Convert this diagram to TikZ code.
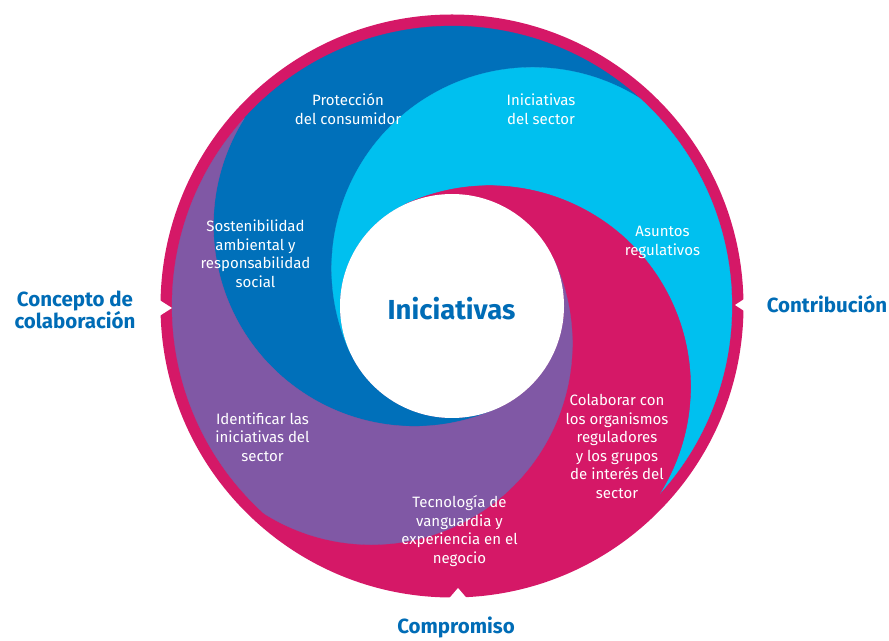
\documentclass[tikz,border=0pt]{standalone}
\usepackage{fontspec}
\setmainfont{Fira Sans}
\usetikzlibrary{calc}
\definecolor{mag}{RGB}{213,24,103}
\definecolor{dblue}{RGB}{0,112,186}
\definecolor{lblue}{RGB}{0,192,239}
\definecolor{purp}{RGB}{128,88,165}
\definecolor{tblue}{RGB}{0,108,182}
\begin{document}
\begin{tikzpicture}[x=1pt,y=1pt,
  wlabel/.style={text=white, align=center, inner sep=0pt, font=\fontsize{15}{18.5}\selectfont},
  blabel/.style={text=tblue, align=center, inner sep=0pt, font=\bfseries\fontsize{20.5}{20}\selectfont},
  clabel/.style={text=tblue, inner sep=0pt, font=\bfseries\fontsize{27.5}{29}\selectfont},
  notch/.style={fill=white, draw=none}]
\useasboundingbox (0,0) rectangle (889,640);
\coordinate (C) at (452,334);
\def\rw{112}
\def\rD{201}
\def\Rin{280}
\def\Rout{291.5}
\def\al{22.88}
\def\be{32.80}
% outer magenta disk
\fill[mag] (C) circle[radius=\Rout];
% four swirl arms
\foreach \t/\col in {115/dblue,25/lblue,-65/mag,205/purp}{
  \path[fill=\col, draw=\col, line width=0.3pt]
     ($(C)+({\t+180}:\rw)$)
     arc[start angle={\t+180}, end angle={\t+\be}, radius=\rD]
     arc[start angle={\t+\al}, end angle={\t-90+\al}, radius=\Rin]
     arc[start angle={\t-90+\be}, end angle={\t+90}, radius=\rD]
     arc[start angle={\t+90}, end angle={\t+180}, radius=\rw] -- cycle;
}
% white centre
\fill[white] (C) circle[radius=\rw];
% notches
\coordinate (nl) at (172,332);
\coordinate (nr) at (735,335);
\coordinate (nb) at (458,52);
\fill[notch] (nl) -- (150,346) -- (150,318) -- cycle;
\fill[notch] (nr) -- (752,346) -- (752,324) -- cycle;
\fill[notch] (nb) -- (446,38) -- (470,38) -- cycle;
% labels
\node[clabel] (ini) at (451.5,331) {Iniciativas};
\node[wlabel] (prot) at (348,531) {Protección\\del consumidor};
\node[wlabel] (inis) at (541,531) {Iniciativas\\del sector};
\node[wlabel] (sost) at (255.5,386.5) {Sostenibilidad\\ambiental y\\responsabilidad\\social};
\node[wlabel] (asun) at (662.5,397.5) {Asuntos\\regulativos};
\node[wlabel] (ident) at (262.5,203) {Identificar las\\iniciativas del\\sector};
\node[wlabel] (tec) at (459.5,109) {Tecnología de\\vanguardia y\\experiencia en el\\negocio};
\node[wlabel] (colab) at (617,193.5) {Colaborar con\\los organismos\\reguladores\\y los grupos\\de interés del\\sector};
\node[blabel] (conc) at (75,330) {Concepto de\\colaboración};
\node[blabel] (contr) at (827,336) {Contribución};
\node[blabel] (comp) at (456,12.5) {Compromiso};
\end{tikzpicture}
\end{document}
